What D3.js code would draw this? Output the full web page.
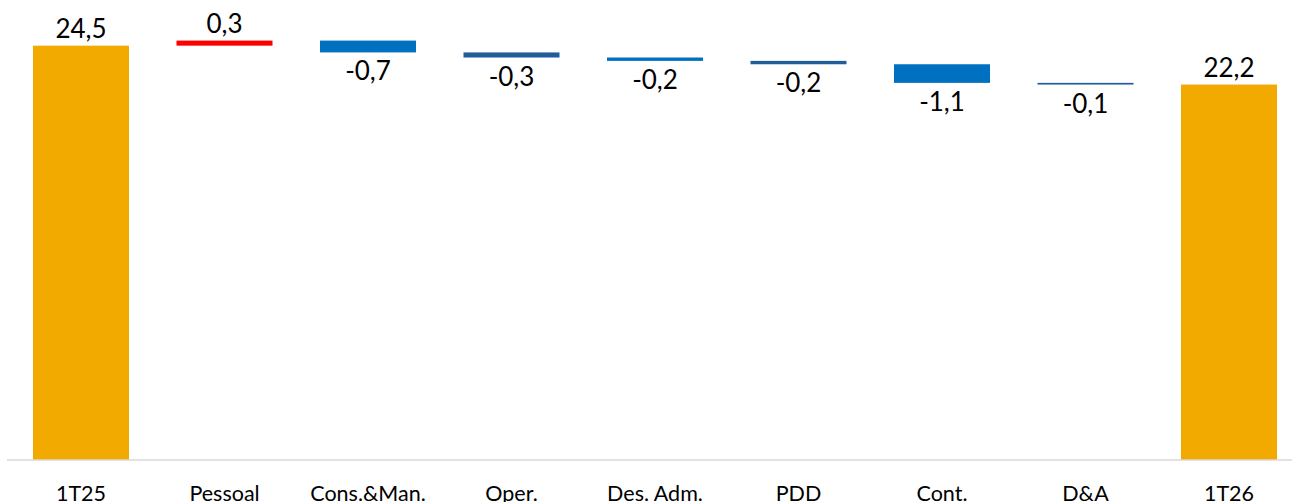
<!DOCTYPE html>
<html>
<head>
<meta charset="utf-8">
<script src="https://cdn.jsdelivr.net/npm/d3@7/dist/d3.min.js"></script>
<style>
  html, body { margin: 0; padding: 0; background: #fff; }
  svg { display: block; }
  text { font-family: Lato, "Liberation Sans", sans-serif; fill: #000; }
</style>
</head>
<body>
<svg id="chart" width="1292" height="502"></svg>
<script>
// Waterfall: opening total, changes by line item, closing total
const categories = ["1T25", "Pessoal", "Cons.&Man.", "Oper.", "Des. Adm.", "PDD", "Cont.", "D&A", "1T26"];
const startTotal = 24.5;
const endTotal = 22.2;
const deltas = [0.3, -0.7, -0.3, -0.2, -0.2, -1.1, -0.1];
const barColors = ["#F2A900", "#FF0000", "#0070C0", "#215D9A", "#0070C0", "#215D9A", "#0070C0", "#215D9A", "#F2A900"];

// One decimal, comma separator, plain hyphen for negatives
const fmt = v => (v < 0 ? "-" : "") + Math.abs(v).toFixed(1).replace(".", ",");

// Build floating segments
const bars = [];
bars.push({ cat: categories[0], y0: 0, y1: startTotal, value: startTotal, total: true });
let running = startTotal;
deltas.forEach((d, i) => {
  const from = running;
  running = +(running + d).toFixed(2);
  bars.push({ cat: categories[i + 1], y0: Math.min(from, running), y1: Math.max(from, running), value: d, total: false });
});
bars.push({ cat: categories[categories.length - 1], y0: 0, y1: endTotal, value: endTotal, total: true });

const svg = d3.select("#chart");

const x = d3.scaleBand()
  .domain(categories)
  .range([9.25, 1300.75])
  .paddingInner(0.331)
  .paddingOuter(0.1655);

const y = d3.scaleLinear().domain([0, 27.2]).range([460, 0]);

// Bars
svg.append("g").selectAll("rect")
  .data(bars)
  .join("rect")
  .attr("x", d => x(d.cat))
  .attr("width", x.bandwidth())
  .attr("y", d => y(d.y1))
  .attr("height", d => Math.max(1.5, y(d.y0) - y(d.y1)))
  .attr("fill", (d, i) => barColors[i]);

// Baseline axis
const axis = d3.axisBottom(x).tickSize(0).tickPadding(0);
const axisG = svg.append("g").attr("transform", `translate(0,${y(0)})`).call(axis);
axisG.select(".domain").remove();
axisG.append("line")
  .attr("x1", 7).attr("x2", 1292)
  .attr("y1", 0).attr("y2", 0)
  .attr("stroke", "#D9D9D9").attr("stroke-width", 1.5);
axisG.selectAll(".tick text")
  .attr("y", 40.5)
  .attr("dy", 0)
  .style("font-family", "Lato, 'Liberation Sans', sans-serif")
  .style("font-size", "21.5px")
  .attr("fill", "#000");

// Value labels: above for totals and increases, below for decreases
svg.append("g").selectAll("text")
  .data(bars)
  .join("text")
  .attr("x", d => x(d.cat) + x.bandwidth() / 2)
  .attr("y", d => (d.total || d.value > 0) ? y(d.y1) - 8 : y(d.y0) + 28)
  .attr("text-anchor", "middle")
  .style("font-size", "26px")
  .text(d => fmt(d.value));
</script>
</body>
</html>
